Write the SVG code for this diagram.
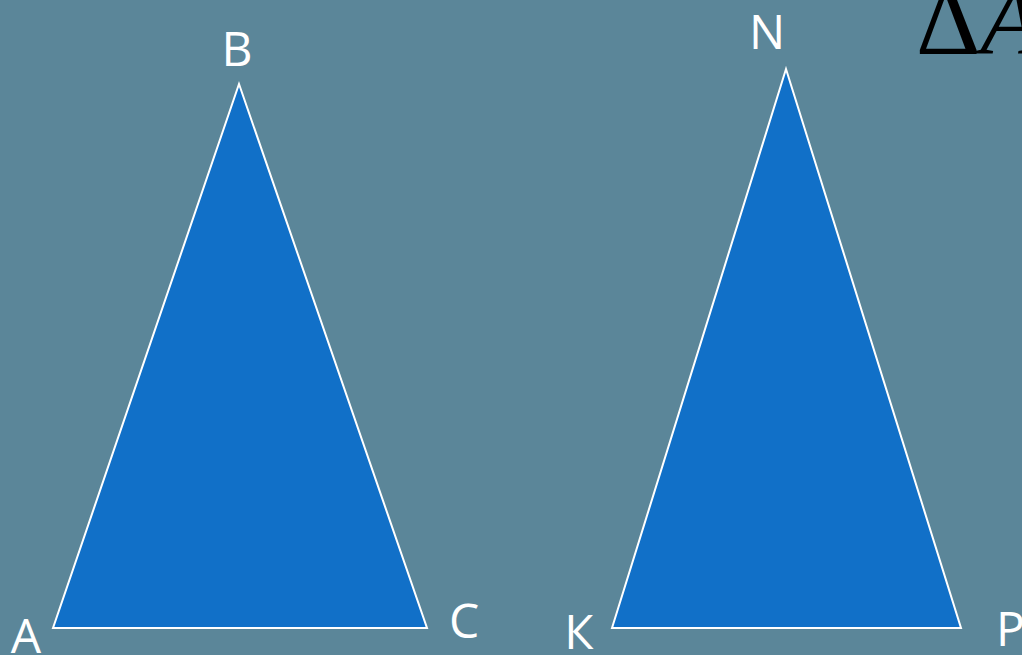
<svg xmlns="http://www.w3.org/2000/svg" width="1022" height="655" viewBox="0 0 1022 655">
<style>
.tri{fill:#1170c8;stroke:#ffffff;stroke-width:2;stroke-linejoin:miter}
.lbl{font-family:"Open Sans","Noto Sans",sans-serif;font-size:48px;fill:#ffffff}
.math{font-family:"Liberation Serif",serif;font-size:100px;fill:#000000}
</style>
<rect x="0" y="0" width="1022" height="655" fill="#5b8699"/>
<g id="triangle-ABC"><polygon class="tri" points="53,628 239,84 427,628"/></g>
<g id="triangle-KNP"><polygon class="tri" points="612,628 786,69 961,628"/></g>
<g id="labels">
<text class="lbl" x="237" y="66" text-anchor="middle">B</text>
<text class="lbl" x="26" y="653" text-anchor="middle">A</text>
<text class="lbl" x="464" y="638" text-anchor="middle">C</text>
<text class="lbl" x="767" y="49" text-anchor="middle">N</text>
<text class="lbl" x="579" y="649" text-anchor="middle">К</text>
<text class="lbl" x="996" y="646">P</text>
<text class="math" x="916" y="54">Δ<tspan font-style="italic">A</tspan></text>
</g>
</svg>
